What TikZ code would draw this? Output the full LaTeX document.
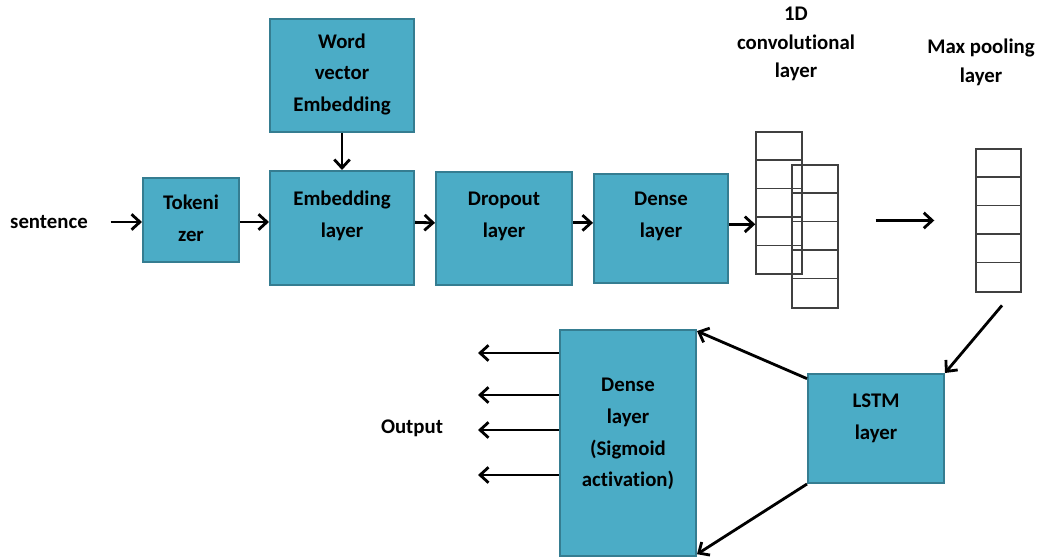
\documentclass[tikz,border=0pt]{standalone}
\usepackage{fontspec}
\setmainfont{Carlito}[Ligatures=CommonOff]
\usetikzlibrary{arrows.meta, positioning}
\definecolor{layerfill}{HTML}{4BACC6}
\definecolor{layerline}{HTML}{357D91}

\begin{document}
\begin{tikzpicture}[
  x=0.025cm, y=-0.025cm,
  every node/.style={font=\fontsize{14.8}{22.5}\selectfont\bfseries},
  layer/.style={rectangle, draw=layerline, fill=layerfill, line width=1.4pt, align=center, inner sep=2pt, text depth=#1},
  layer/.default=20pt,
  caption/.style={align=center, font=\fontsize{14.8}{20.5}\selectfont\bfseries},
  stack/.style={rectangle, draw=black!75, line width=1pt, minimum width=1.15cm, inner sep=0pt},
  cellline/.style={draw=black!75, line width=1pt},
  arr/.style={-{Straight Barb[length=6pt,width=11pt]}, line width=2pt},
]
\useasboundingbox (0,0) rectangle (1044,557);

% Layers
\node[layer=3pt, minimum width=2.4cm, minimum height=2.1cm] (tok) at (191,220) {Tokeni\\zer};
\node[layer, minimum width=3.6cm, minimum height=2.85cm] (embed) at (342,228) {Embedding\\layer};
\node[layer=4pt, minimum width=3.6cm, minimum height=2.825cm] (wordvec) at (342,75.5) {Word\\vector\\Embedding};
\node[layer, minimum width=3.4cm, minimum height=2.825cm] (dropout) at (504,228.5) {Dropout\\layer};
\node[layer, minimum width=3.35cm, minimum height=2.725cm] (dense) at (661,228.5) {Dense\\layer};
\node[layer=17pt, minimum width=3.4cm, minimum height=2.725cm] (lstm) at (876,428.5) {LSTM\\layer};
\node[layer=15pt, minimum width=3.4cm, minimum height=5.65cm] (sig) at (628,443) {Dense\\layer\\(Sigmoid\\activation)};

% Conv and pooling stacks
\node[stack, minimum height=3.55cm] (conv1) at (779,203) {};
\node[stack, minimum height=3.575cm] (conv2) at (815,236.5) {};
\node[stack, minimum width=1.125cm, minimum height=3.575cm] (pool) at (998.5,220.5) {};
\foreach \s in {conv1,conv2,pool}
  \foreach \k in {1,...,4}
    \draw[cellline] ([yshift=-\k*0.715cm]\s.north west) -- ([yshift=-\k*0.715cm]\s.north east);

% Labels
\node (sent) at (49,222) {sentence};
\node (out) at (412,428) {Output};
\node[caption] (convlab) at (796,44) {1D\\convolutional\\layer};
\node[caption] (poollab) at (981,62.5) {Max pooling\\layer};

% Flow
\draw[arr, shorten <=0.45cm] (sent) -- (sent -| tok.west);
\draw[arr] (tok.east |- sent) -- (embed.west |- sent);
\draw[arr] (wordvec) -- (embed);
\draw[arr] ([yshift=4pt]embed.east) -- ([yshift=4pt]dropout.west);
\draw[arr] ([yshift=4pt]dropout.east) -- ([yshift=4pt]dense.west);
\draw[arr] ([yshift=3pt]dense.east) -- ([yshift=3pt]dense.east -| conv1.west);
\draw[arr, shorten <=0.925cm, shorten >=1.025cm] (conv2.east |- pool) -- (pool.west);
\draw[arr] ([xshift=2.5pt,yshift=-9pt]pool.south) -- (lstm.north east);
\draw[arr] ([yshift=-4pt]lstm.north west) -- ([yshift=-1.5pt]sig.north east);
\draw[arr] (lstm.south west) -- ([yshift=2pt]sig.south east);

% Outputs
\foreach \y [count=\i] in {353,395,430,475} {
  \coordinate (o\i) at (478,\y);
  \draw[arr] (sig.west |- o\i) -- (o\i);
}

\end{tikzpicture}
\end{document}
